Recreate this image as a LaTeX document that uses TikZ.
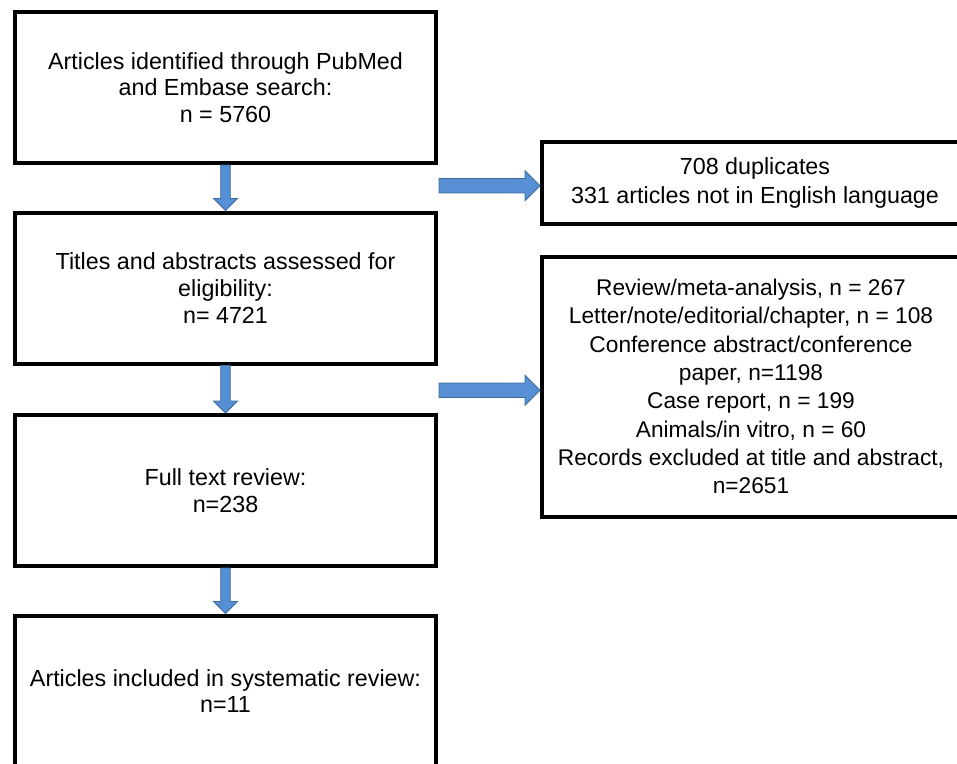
\documentclass[tikz,border=0pt]{standalone}
\usepackage{fontspec}
\setmainfont{Liberation Sans}
\usetikzlibrary{calc}
\definecolor{arrfill}{RGB}{86,143,212}
\definecolor{arrline}{RGB}{62,110,160}
\tikzset{
  box/.style={draw=black, line width=4pt, rectangle, inner sep=0pt, align=center, fill=white},
  leftbox/.style={box, minimum width=421pt, minimum height=151pt,
    font=\fontsize{23.3}{26.7}\selectfont},
  blockarrow/.style={fill=arrfill, draw=arrline, line width=0.8pt, line join=miter}
}
\begin{document}
\begin{tikzpicture}[x=1pt,y=-1pt]
\useasboundingbox (0,0) rectangle (957,763);
\fill[white] (0,0) rectangle (957,763);
\begin{scope}
\clip (0,0) rectangle (957,763);
% left column
\node[leftbox] (b1) at (225.5,87.5) {Articles identified through PubMed\\and Embase search:\\n = 5760};
\node[leftbox] (b2) at (225.5,288) {Titles and abstracts assessed for\\eligibility:\\n= 4721};
\node[leftbox] (b3) at (225.5,490.5) {Full text review:\\n=238};
\node[leftbox] (b4) at (225.5,691) {Articles included in systematic review:\\n=11};
% right column
\node[box, minimum width=426pt, minimum height=81.5pt,
  font=\fontsize{23.3}{29}\selectfont] (r1) at (755,182.75)
  {708 duplicates\\331 articles not in English language};
\node[box, minimum width=418pt, minimum height=260pt,
  font=\fontsize{22.7}{28.3}\selectfont] (r2) at (751,386.5)
  {Review/meta-analysis, n = 267\\Letter/note/editorial/chapter, n = 108\\Conference abstract/conference\\paper, n=1198\\Case report, n = 199\\Animals/in vitro, n = 60\\Records excluded at title and abstract,\\n=2651};
% down arrows
\foreach \a/\b in {b1/b2, b2/b3, b3/b4}{
  \draw[blockarrow]
    ($(\a.south)+(-4.8,0)$) -- ($(\a.south)+(4.8,0)$)
    -- ($(\b.north)+(4.8,-12)$) -- ($(\b.north)+(12,-12)$)
    -- (\b.north)
    -- ($(\b.north)+(-12,-12)$) -- ($(\b.north)+(-4.8,-12)$) -- cycle;
}
% right arrows
\coordinate (s1) at ($(b1.south east)!0.5!(b2.north east)+(1,-2)$);
\coordinate (s2) at ($(b2.south east)!0.5!(b3.north east)+(1,1)$);
\foreach \s/\r in {s1/r1, s2/r2}{
  \draw[blockarrow]
    ($(\s)+(0,-7.2)$) -- ($(\s -| \r.west)+(-15,-7.2)$)
    -- ($(\s -| \r.west)+(-15,-15)$) -- (\s -| \r.west)
    -- ($(\s -| \r.west)+(-15,15)$) -- ($(\s -| \r.west)+(-15,7.2)$)
    -- ($(\s)+(0,7.2)$) -- cycle;
}
\end{scope}
\end{tikzpicture}
\end{document}
